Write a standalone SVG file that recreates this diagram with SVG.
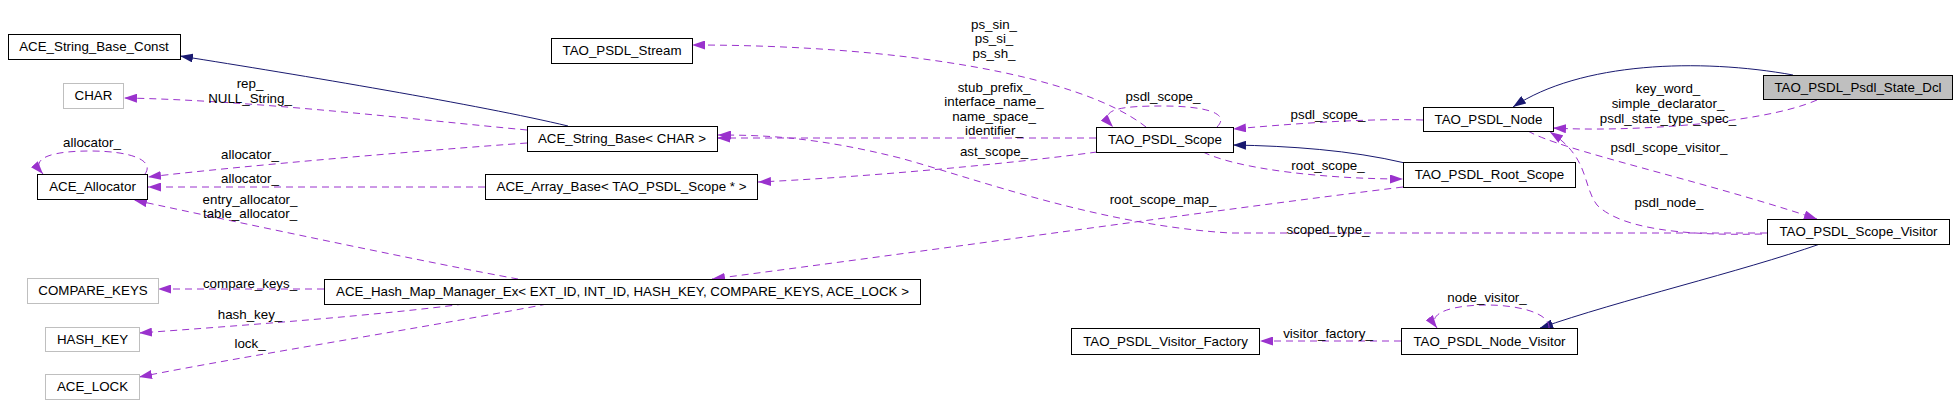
<svg xmlns="http://www.w3.org/2000/svg" width="1957" height="415" viewBox="0 0 1957 415">
<style>
text{font-family:"Liberation Sans",Arial,sans-serif;font-size:13.33px;fill:#000}
.nt{text-anchor:middle}
.el{text-anchor:middle}
rect.n{fill:#fff;stroke:#000;stroke-width:1}
rect.g{fill:#fff;stroke:#bfbfbf;stroke-width:1}
rect.f{fill:#bfbfbf;stroke:#000;stroke-width:1}
.d{fill:none;stroke:#9a32cd;stroke-width:1;stroke-dasharray:7,5;marker-end:url(#ap)}
.s{fill:none;stroke:#191970;stroke-width:1;marker-end:url(#an)}
</style>
<defs>
<marker id="ap" viewBox="0 0 13 9" refX="13" refY="4.5" markerWidth="13" markerHeight="9" markerUnits="userSpaceOnUse" orient="auto"><path d="M0,0 L13,4.5 L0,9 z" fill="#9a32cd"/></marker>
<marker id="an" viewBox="0 0 13 9" refX="13" refY="4.5" markerWidth="13" markerHeight="9" markerUnits="userSpaceOnUse" orient="auto"><path d="M0,0 L13,4.5 L0,9 z" fill="#191970"/></marker>
</defs>
<rect width="1957" height="415" fill="#fff"/>
<g id="edges">
<path class="s" d="M568,126 C480,105 300,75 180,56"/>
<path class="d" d="M527,130 C420,120 250,100 124,98"/>
<path class="d" d="M527,143 C430,150 250,165 148,177"/>
<path class="d" d="M485,187 L148,187"/>
<path class="d" d="M145,174 C155,160 130,151 90,151 C55,151 28,157 43,174"/>
<path class="d" d="M518,279 C440,265 250,225 134,200"/>
<path class="d" d="M324,289 L158,289"/>
<path class="d" d="M464,304 C380,315 250,325 139,333"/>
<path class="d" d="M547,304 C440,325 250,355 139,377"/>
<path class="d" d="M1146,127 C1080,75 900,45 692,45"/>
<path class="d" d="M1217,127 C1232,112 1200,106 1163,106 C1125,106 1095,108 1113,127"/>
<path class="d" d="M1096,138 L717,138"/>
<path class="d" d="M1097,152 C1000,165 850,178 758,182"/>
<path class="d" d="M1767,233 L1230,233 C1100,225 980,180 900,158 C820,138 770,135 718,135"/>
<path class="s" d="M1405,163 C1350,150 1290,146 1233,145"/>
<path class="d" d="M1203,152 C1240,170 1330,179 1403,179"/>
<path class="d" d="M1403,187 C1200,212 950,248 712,279"/>
<path class="d" d="M1423,120 C1360,118 1280,125 1233,129"/>
<path class="s" d="M1793,75 C1700,58 1580,62 1513,107"/>
<path class="d" d="M1817,100 C1760,125 1620,132 1553,128"/>
<path class="d" d="M1762,234 C1680,236 1620,228 1597,205 C1582,185 1590,158 1550,132"/>
<path class="d" d="M1528,131 C1560,150 1700,180 1817,219"/>
<path class="s" d="M1820,244 C1740,272 1620,300 1540,328"/>
<path class="d" d="M1549,328 C1550,312 1515,305 1487,305 C1455,305 1425,312 1437,328"/>
<path class="d" d="M1401,341 L1260,341"/>
<text class="el" x="250" y="88">rep_</text>
<text class="el" x="250" y="103">NULL_String_</text>
<text class="el" x="92" y="147">allocator_</text>
<text class="el" x="250" y="159">allocator_</text>
<text class="el" x="250" y="183">allocator_</text>
<text class="el" x="250" y="204">entry_allocator_</text>
<text class="el" x="250" y="218">table_allocator_</text>
<text class="el" x="250" y="288">compare_keys_</text>
<text class="el" x="250" y="319">hash_key_</text>
<text class="el" x="250" y="348">lock_</text>
<text class="el" x="994" y="29">ps_sin_</text>
<text class="el" x="994" y="43">ps_si_</text>
<text class="el" x="994" y="58">ps_sh_</text>
<text class="el" x="994" y="92">stub_prefix_</text>
<text class="el" x="994" y="106">interface_name_</text>
<text class="el" x="994" y="121">name_space_</text>
<text class="el" x="994" y="135">identifier_</text>
<text class="el" x="994" y="156">ast_scope_</text>
<text class="el" x="1163" y="101">psdl_scope_</text>
<text class="el" x="1328" y="119">psdl_scope_</text>
<text class="el" x="1328" y="170">root_scope_</text>
<text class="el" x="1163" y="204">root_scope_map_</text>
<text class="el" x="1328" y="234">scoped_type_</text>
<text class="el" x="1668" y="93">key_word_</text>
<text class="el" x="1668" y="108">simple_declarator_</text>
<text class="el" x="1668" y="123">psdl_state_type_spec_</text>
<text class="el" x="1669" y="152">psdl_scope_visitor_</text>
<text class="el" x="1669" y="207">psdl_node_</text>
<text class="el" x="1487" y="302">node_visitor_</text>
<text class="el" x="1328" y="338">visitor_factory_</text>
</g>
<g id="n_const"><rect class="n" x="8.5" y="34.5" width="172" height="25"/><text class="nt" x="94" y="51">ACE_String_Base_Const</text></g>
<g id="n_stream"><rect class="n" x="551.5" y="38.5" width="141" height="25"/><text class="nt" x="622" y="55">TAO_PSDL_Stream</text></g>
<g id="n_char"><rect class="g" x="63.5" y="83.5" width="60" height="25"/><text class="nt" x="93.5" y="100">CHAR</text></g>
<g id="n_strbase"><rect class="n" x="527.5" y="126.5" width="190" height="25"/><text class="nt" x="622" y="143">ACE_String_Base&lt; CHAR &gt;</text></g>
<g id="n_alloc"><rect class="n" x="37.5" y="174.5" width="110" height="25"/><text class="nt" x="92.5" y="191">ACE_Allocator</text></g>
<g id="n_array"><rect class="n" x="485.5" y="174.5" width="272" height="25"/><text class="nt" x="621.5" y="191">ACE_Array_Base&lt; TAO_PSDL_Scope * &gt;</text></g>
<g id="n_cmpkeys"><rect class="g" x="27.5" y="278.5" width="131" height="25"/><text class="nt" x="93" y="295">COMPARE_KEYS</text></g>
<g id="n_hash"><rect class="n" x="324.5" y="279.5" width="596" height="25"/><text class="nt" x="622.5" y="296">ACE_Hash_Map_Manager_Ex&lt; EXT_ID, INT_ID, HASH_KEY, COMPARE_KEYS, ACE_LOCK &gt;</text></g>
<g id="n_hashkey"><rect class="g" x="45.5" y="327.5" width="94" height="24"/><text class="nt" x="92.5" y="344">HASH_KEY</text></g>
<g id="n_lock"><rect class="g" x="45.5" y="374.5" width="94" height="25"/><text class="nt" x="92.5" y="391">ACE_LOCK</text></g>
<g id="n_scope"><rect class="n" x="1096.5" y="127.5" width="137" height="25"/><text class="nt" x="1165" y="144">TAO_PSDL_Scope</text></g>
<g id="n_node"><rect class="n" x="1423.5" y="107.5" width="130" height="24"/><text class="nt" x="1488.5" y="124">TAO_PSDL_Node</text></g>
<g id="n_dcl"><rect class="f" x="1763.5" y="75.5" width="189" height="24"/><text class="nt" x="1858" y="92">TAO_PSDL_Psdl_State_Dcl</text></g>
<g id="n_root"><rect class="n" x="1403.5" y="162.5" width="172" height="25"/><text class="nt" x="1489.5" y="179">TAO_PSDL_Root_Scope</text></g>
<g id="n_svis"><rect class="n" x="1767.5" y="219.5" width="182" height="25"/><text class="nt" x="1858.5" y="236">TAO_PSDL_Scope_Visitor</text></g>
<g id="n_vfac"><rect class="n" x="1071.5" y="328.5" width="188" height="26"/><text class="nt" x="1165.5" y="346">TAO_PSDL_Visitor_Factory</text></g>
<g id="n_nvis"><rect class="n" x="1401.5" y="328.5" width="176" height="26"/><text class="nt" x="1489.5" y="346">TAO_PSDL_Node_Visitor</text></g>
</svg>
